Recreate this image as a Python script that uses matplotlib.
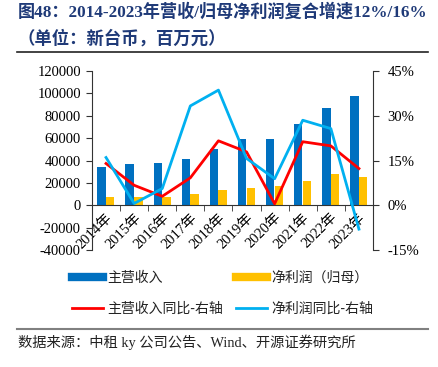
import matplotlib
matplotlib.use("Agg")
import matplotlib.pyplot as plt
import numpy as np
from matplotlib.lines import Line2D

plt.rcParams['font.family'] = ['Liberation Serif', 'Noto Sans CJK SC', 'DejaVu Sans']

years = ['2014年', '2015年', '2016年', '2017年', '2018年', '2019年', '2020年', '2021年', '2022年', '2023年']
revenue = [34300, 36700, 37900, 41200, 50100, 59100, 59400, 72200, 86600, 97300]
net_profit = [7100, 7200, 7000, 9900, 13400, 15500, 17000, 21800, 27800, 25000]
revenue_yoy = [14.0, 6.7, 3.0, 9.2, 21.6, 17.9, 0.5, 21.3, 19.9, 12.3]
profit_yoy = [16.0, 0.6, 5.6, 33.3, 38.6, 15.7, 8.9, 28.5, 25.7, -8.0]

left_ticks = [-40000, -20000, 0, 20000, 40000, 60000, 80000, 100000, 120000]
right_ticks = [-15, 0, 15, 30, 45]

C_BLUE = '#0070C0'
C_YEL = '#FFC000'
C_RED = '#FF0000'
C_CYAN = '#00B0F0'

fig = plt.figure(figsize=(4.38, 3.67), dpi=100)
ax = fig.add_axes([0.210, 0.3188, 0.6416, 0.4877])
x = np.arange(len(years))
w = 0.3
ax.bar(x - 0.16, revenue, width=w, color=C_BLUE, zorder=2)
ax.bar(x + 0.15, net_profit, width=w, color=C_YEL, zorder=2)
ax.set_xlim(-0.5, len(years) - 0.5)
ax.set_ylim(-40000, 120000)
ax.set_yticks(left_ticks)
ax.set_yticklabels([str(v) for v in left_ticks], fontsize=10.5)
ax.spines['top'].set_visible(False)
ax.spines['right'].set_visible(False)
ax.spines['bottom'].set_position(('data', 0))
ax.spines['left'].set_color('#333333')
ax.spines['bottom'].set_color('#333333')
ax.tick_params(axis='y', direction='out', length=4, color='#333333', pad=4)
ax.set_xticks(x)
ax.set_xticklabels(years, rotation=45, ha='right', va='top', rotation_mode='anchor', fontsize=10.5)
ax.tick_params(axis='x', which='major', length=0, pad=4)
ax.set_xticks(np.arange(-0.5, len(years), 1.0), minor=True)
ax.tick_params(axis='x', which='minor', length=4, direction='out', color='#333333')

ax2 = ax.twinx()
ax2.plot(x, revenue_yoy, color=C_RED, lw=2, zorder=3)
ax2.plot(x, profit_yoy, color=C_CYAN, lw=2, zorder=3)
ax2.set_ylim(-15, 45)
ax2.set_yticks(right_ticks)
ax2.set_yticklabels([f'{v}%' for v in right_ticks], fontsize=10.5)
ax2.spines['top'].set_visible(False)
ax2.spines['left'].set_visible(False)
ax2.spines['bottom'].set_visible(False)
ax2.spines['right'].set_color('#333333')
ax2.tick_params(axis='y', direction='out', length=4, color='#333333', pad=6.5)

handles = [Line2D([], [], color=C_BLUE, lw=6),
           Line2D([], [], color=C_RED, lw=2),
           Line2D([], [], color=C_YEL, lw=6),
           Line2D([], [], color=C_CYAN, lw=2)]
labels = ['主营收入', '主营收入同比-右轴', '净利润（归母）', '净利润同比-右轴']
leg = fig.legend(handles, labels, ncol=2, loc='center left', bbox_to_anchor=(0.164, 0.2003),
                 frameon=False, handlelength=2.25, handletextpad=0.3,
                 columnspacing=0.95, labelspacing=1.2, borderpad=0, borderaxespad=0,
                 prop={'family': ['Noto Sans CJK SC', 'DejaVu Sans'], 'size': 10})
for t in leg.get_texts():
    t.set_color('#222222')

TITLE_C = '#1F3A78'
fig.text(0.041, 0.967, '图48：2014-2023年营收/归母净利润复合增速12%/16%', fontsize=12.3,
         fontweight='bold', color=TITLE_C, ha='left', va='center',
         family=['Liberation Serif', 'Noto Sans CJK SC'])
fig.text(0.041, 0.896, '（单位：新台币，百万元）', fontsize=12.5,
         fontweight='bold', color=TITLE_C, ha='left', va='center',
         family=['Noto Sans CJK SC'])
fig.add_artist(Line2D([0.039, 0.977], [0.858, 0.858], color='#222222', lw=1.2))
fig.add_artist(Line2D([0.039, 0.977], [0.1035, 0.1035], color='#808080', lw=1.5))
fig.text(0.041, 0.068, '数据来源：中租 ky 公司公告、Wind、开源证券研究所', fontsize=10.3,
         color='#222222', ha='left', va='center',
         family=['Liberation Serif', 'Noto Sans CJK SC'])

fig.savefig('out.png', dpi=100)
